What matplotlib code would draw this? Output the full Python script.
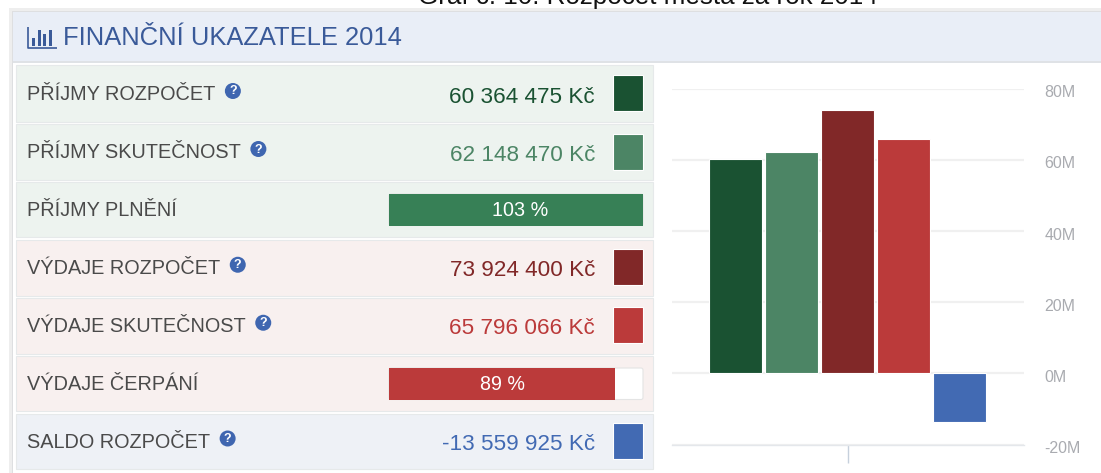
import matplotlib
matplotlib.use("Agg")
import matplotlib.pyplot as plt
from matplotlib.patches import Rectangle, FancyBboxPatch, Circle
from matplotlib.transforms import ScaledTranslation

W, H = 1101, 473

# --- data ---
title = "FINANČNÍ UKAZATELE 2014"
caption = "Graf č. 10: Rozpočet města za rok 2014"
row_labels = ["PŘÍJMY ROZPOČET", "PŘÍJMY SKUTEČNOST", "PŘÍJMY PLNĚNÍ",
              "VÝDAJE ROZPOČET", "VÝDAJE SKUTEČNOST", "VÝDAJE ČERPÁNÍ", "SALDO ROZPOČET"]
row_values = ["60 364 475 Kč", "62 148 470 Kč", None,
              "73 924 400 Kč", "65 796 066 Kč", None, "-13 559 925 Kč"]
row_help = [True, True, False, True, True, False, True]
row_percent = [None, None, 103, None, None, 89, None]
bar_values = [60364475, 62148470, 73924400, 65796066, -13559925]
bar_colors = ["#1a5232", "#4c8565", "#812828", "#bb3a3a", "#426ab3"]
y_ticks = [-20, 0, 20, 40, 60, 80]

# --- style ---
row_bg = ["#edf3ef", "#edf3ef", "#edf3ef", "#f8f0ef", "#f8f0ef", "#f8f0ef", "#eef1f6"]
row_tops = [65.5, 124, 182, 240, 298, 356, 414]
row_bots = [122.5, 180, 237, 295.5, 353.5, 411, 469]
value_cols = ["#1a5232", "#4c8565", None, "#812828", "#bb3a3a", None, "#426ab3"]
prog_cols = {2: "#378056", 5: "#bb3a3a"}
font = "Liberation Sans"
head_col = "#3a5a99"

fig = plt.figure(figsize=(W / 100, H / 100), dpi=100, facecolor="white")
bg = fig.add_axes([0, 0, 1, 1])
bg.set_xlim(0, W)
bg.set_ylim(H, 0)
bg.axis("off")

# caption, cut by the top edge as in the reference
bg.text(648, 4, caption, ha="center", va="baseline", fontsize=18.7, color="#111111",
        family=font, clip_on=True)

# outer frame and header
bg.add_patch(Rectangle((9, 8), W, H, fc="#eeeeee", ec="none", zorder=0))
bg.add_patch(Rectangle((12, 11), W, H, fc="#dedfe1", ec="none", zorder=0.2))
bg.add_patch(Rectangle((13, 12), W, H, fc="white", ec="none", zorder=0.5))
bg.add_patch(Rectangle((13, 12), W, 49.5, fc="#e9eef7", ec="none", zorder=1))
bg.add_patch(Rectangle((13, 61), W, 2.2, fc="#dfe2e6", ec="none", zorder=1))

# header icon
bg.plot([27.5, 27.5, 57], [27, 47.8, 47.8], color=head_col, lw=1.2, zorder=3,
        solid_capstyle="butt")
for ix, wd, top in zip([32, 37.5, 43, 48.5], [3, 3, 3, 3.6], [38, 30, 34, 30]):
    bg.add_patch(Rectangle((ix, top), wd, 45.8 - top, fc=head_col, ec="none", zorder=3))
bg.text(63, 38, title, ha="left", va="center", fontsize=18.4, color=head_col,
        family=font, zorder=3)

# rows
for i, label in enumerate(row_labels):
    top, bot = row_tops[i], row_bots[i]
    cy = (top + bot) / 2
    bg.add_patch(Rectangle((16, top), 637, bot - top, fc=row_bg[i], ec="#e6e9ea", lw=0.8, zorder=1))
    t = bg.text(27, cy + 0.5, label, ha="left", va="center", fontsize=14.35, color="#4a4a4a",
                family=font, zorder=3)
    if row_help[i]:
        r = t.get_window_extent(fig.canvas.get_renderer())
        hx = r.x1 + 17.5
        bg.add_patch(Circle((hx, cy - 3), 8, fc="#3f66b0", ec="none", zorder=3))
        bg.text(hx, cy - 2.5, "?", ha="center", va="center", fontsize=9, color="white",
                family=font, weight="bold", zorder=4)
    if row_values[i] is not None:
        bg.text(595, cy + 3, row_values[i], ha="right", va="center", fontsize=16.2,
                color=value_cols[i], family=font, zorder=3)
        bg.add_patch(Rectangle((613, cy - 18.5), 30, 36, fc=value_cols[i], ec="white",
                               lw=0.8, zorder=3))
    else:
        pct = row_percent[i]
        x0, x1, y0 = 389, 643, cy - 15.5
        h = 31.5
        bg.add_patch(FancyBboxPatch((x0, y0), x1 - x0, h, boxstyle="round,pad=0,rounding_size=2",
                                    fc="white", ec="#e4e4e4", lw=0.8, zorder=2))
        wid = (x1 - x0) * min(pct, 100) / 100
        bg.add_patch(Rectangle((x0, y0), wid, h, fc=prog_cols[i], ec="none", zorder=3))
        bg.text(x0 + (x1 - x0) * pct / 200, y0 + h / 2 + 1, f"{pct} %", ha="center", va="center",
                fontsize=14.2, color="white", family=font, zorder=4)

# chart: x 672..1024 px, y 88.7(80M)..444.3(-20M) px
ax = fig.add_axes([672 / W, 1 - 444.5 / H, (1024 - 672) / W, (444.5 - 88.7) / H], facecolor="none")
ax.set_ylim(-20e6, 80e6)
ax.set_xlim(-1.139, 5.15)
ax.set_axisbelow(True)
ax.bar(range(len(bar_values)), bar_values, width=0.945, color=bar_colors,
       edgecolor="#ffffff", linewidth=0.8, zorder=3)
ax.set_yticks([v * 1e6 for v in y_ticks])
ax.set_yticklabels([f"{v}M" for v in y_ticks], family=font, fontsize=11.5, color="#a9abb0",
                   ha="left")
ax.yaxis.tick_right()
ax.tick_params(axis="y", length=0, pad=21)
shift = ScaledTranslation(-6.3 / 72, -1.8 / 72, fig.dpi_scale_trans)
for lab in ax.get_yticklabels():
    lab.set_transform(lab.get_transform() + shift)
ax.grid(axis="y", color="#f0f0f0", lw=1.6, zorder=0)
for s in ["top", "left", "right"]:
    ax.spines[s].set_visible(False)
ax.spines["bottom"].set_color("#e4e7eb")
ax.spines["bottom"].set_linewidth(1)
ax.set_xticks([2])
ax.set_xticklabels([""])
ax.tick_params(axis="x", length=13, color="#c6d0dc", width=1)

fig.savefig("out.png", dpi=100)
